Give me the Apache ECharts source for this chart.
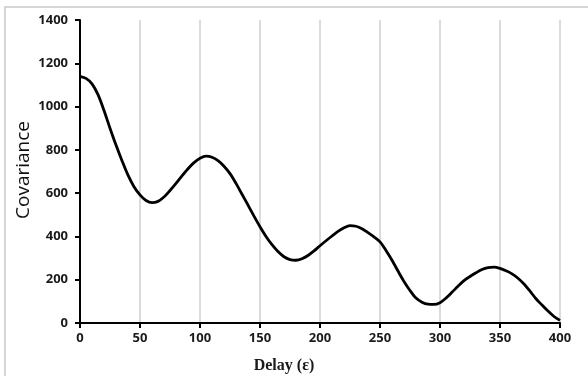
<!DOCTYPE html>
<html>
<head>
<meta charset="utf-8">
<script src="https://cdn.jsdelivr.net/npm/echarts@6/dist/echarts.min.js"></script>
<style>
  html, body { margin: 0; padding: 0; background: #fff; }
  #chart { width: 588px; height: 376px; }
</style>
</head>
<body>
<div id="chart"></div>
<script>
// delay (x) in steps of 5, covariance
const delays = [0, 5, 10, 15, 20, 25, 30, 35, 40, 45, 50, 55, 60, 65, 70, 75, 80, 85, 90, 95,
  100, 105, 110, 115, 120, 125, 130, 135, 140, 145, 150, 155, 160, 165, 170, 175, 180, 185, 190, 195,
  200, 205, 210, 215, 220, 225, 230, 235, 240, 245, 250, 255, 260, 265, 270, 275, 280, 285, 290, 295,
  300, 305, 310, 315, 320, 325, 330, 335, 340, 345, 350, 355, 360, 365, 370, 375, 380, 385, 390, 395, 400];
const covariance = [1140, 1130, 1105, 1055, 982, 900, 822, 750, 683, 630, 592, 566, 556, 562, 582, 612, 645, 680, 713, 741,
  761, 771, 766, 750, 724, 690, 645, 595, 545, 494, 445, 400, 362, 330, 306, 293, 290, 297, 312, 333,
  357, 380, 402, 423, 440, 450, 447, 436, 418, 398, 375, 335, 290, 240, 192, 150, 115, 96, 87, 86,
  94, 115, 142, 170, 196, 215, 232, 247, 256, 258, 252, 241, 227, 207, 180, 147, 112, 83, 55, 30, 12];
const yTicks = [0, 1400, 200];
const xTicks = [0, 400, 50];

const chart = echarts.init(document.getElementById("chart"));

const points = delays.map((d, i) => [d, covariance[i]]);

chart.setOption({
  animation: false,
  grid: { left: 80, right: 28, top: 20, bottom: 53 },
  xAxis: {
    type: "value",
    min: xTicks[0],
    max: xTicks[1],
    interval: xTicks[2],
    axisLine: { show: true, lineStyle: { color: "#000", width: 2 } },
    axisTick: { show: true, length: 5, lineStyle: { color: "#000", width: 2 } },
    axisLabel: { color: "#1a1a1a", fontWeight: "bold", fontSize: 13, fontFamily: "Open Sans", margin: 9, formatter: (v) => String(v) },
    splitLine: { show: true, lineStyle: { color: "#cfcfcf", width: 1.5 } },
  },
  yAxis: {
    type: "value",
    min: yTicks[0],
    max: yTicks[1],
    interval: yTicks[2],
    axisLine: { show: true, lineStyle: { color: "#000", width: 2 } },
    axisTick: { show: true, length: 5, lineStyle: { color: "#000", width: 2 } },
    axisLabel: { color: "#1a1a1a", fontWeight: "bold", fontSize: 13, fontFamily: "Open Sans", margin: 12, formatter: (v) => String(v) },
    splitLine: { show: false },
  },
  graphic: [
    {
      type: "rect",
      shape: { x: 5, y: 7, width: 700, height: 500 },
      style: { fill: "none", stroke: "#c8c8c8", lineWidth: 1.5 },
      z: -1,
    },
    {
      type: "text",
      x: 284,
      y: 366,
      style: {
        text: "Delay (ε)",
        font: "bold 16px 'Liberation Serif'",
        fill: "#1a1a1a",
        textAlign: "center",
        textVerticalAlign: "middle",
      },
    },
    {
      type: "text",
      x: 24,
      y: 170,
      rotation: Math.PI / 2,
      style: {
        text: "Covariance",
        font: "500 19px 'Open Sans'",
        fill: "#111",
        textAlign: "center",
        textVerticalAlign: "middle",
      },
    },
  ],
  series: [
    {
      type: "line",
      data: points,
      smooth: 0.3,
      showSymbol: false,
      lineStyle: { color: "#000", width: 2.8 },
    },
  ],
});
</script>
</body>
</html>
